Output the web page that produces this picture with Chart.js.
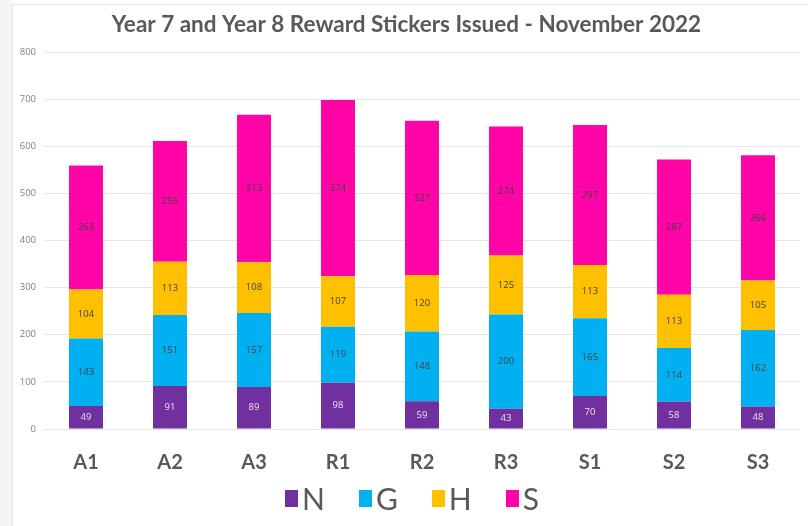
<!DOCTYPE html>
<html>
<head>
<meta charset="utf-8">
<script src="https://cdn.jsdelivr.net/npm/chart.js@4/dist/chart.umd.min.js"></script>
<style>
  html, body { margin:0; padding:0; background:#fff; }
  body { width:808px; height:526px; position:relative; overflow:hidden; }
  #strip { position:absolute; left:0; top:0; width:12px; height:526px; background:#f4f4f4; }
  #frame { position:absolute; left:12px; top:4px; width:796px; height:522px;
           border-left:1px solid #e4e4e4; border-top:1px solid #e4e4e4; }
  #wrap { position:absolute; left:0; top:0; width:795px; height:521px; }
  #legend { position:absolute; left:8px; top:480px; width:808px; display:flex;
            justify-content:center; align-items:center; font-family:Lato, sans-serif;
            font-size:30px; color:#595959; }
  .item { display:flex; align-items:center; margin:0 17px; }
  .box { width:13px; height:17px; margin-right:4px; }
</style>
</head>
<body>
<div id="strip"></div>
<div id="frame"><div id="wrap"><canvas id="chart"></canvas></div></div>
<div id="legend"></div>
<script>
const classes = ["A1","A2","A3","R1","R2","R3","S1","S2","S3"];
const seriesNames = ["N","G","H","S"];
const nValues = [49, 91, 89, 98, 59, 43, 70, 58, 48];
const gValues = [143, 151, 157, 119, 148, 200, 165, 114, 162];
const hValues = [104, 113, 108, 107, 120, 125, 113, 113, 105];
const sValues = [263, 256, 313, 374, 327, 274, 297, 287, 266];
const colours = ["#7030a0", "#00b0f0", "#ffc000", "#ff05a8"];
const labelColours = ["#e8e8e8", "#404040", "#404040", "#404040"];

const allValues = [nValues, gValues, hValues, sValues];

// write the numbers in the middle of each segment
const segmentLabels = {
  id: "segmentLabels",
  afterDatasetsDraw(chart) {
    const ctx = chart.ctx;
    ctx.save();
    ctx.font = "9.5px 'Open Sans', sans-serif";
    ctx.textAlign = "center";
    ctx.textBaseline = "middle";
    chart.data.datasets.forEach((ds, i) => {
      chart.getDatasetMeta(i).data.forEach((bar, j) => {
        ctx.fillStyle = labelColours[i];
        ctx.fillText(ds.data[j], bar.x, (bar.y + bar.base) / 2);
      });
    });
    ctx.restore();
  }
};

const chart = new Chart(document.getElementById("chart"), {
  type: "bar",
  data: {
    labels: classes,
    datasets: seriesNames.map((name, i) => ({
      label: name,
      data: allValues[i],
      backgroundColor: colours[i],
      borderWidth: 0,
      categoryPercentage: 1,
      barPercentage: 0.405
    }))
  },
  options: {
    responsive: true,
    maintainAspectRatio: false,
    animation: false,
    layout: { padding: { left: 0, right: 8, top: 0, bottom: 47 } },
    plugins: {
      legend: { display: false },
      tooltip: { enabled: false },
      title: {
        display: true,
        text: "Year 7 and Year 8 Reward Stickers Issued - November 2022",
        color: "#595959",
        font: { family: "Lato", size: 22.5, weight: "bold" },
        padding: { top: 6, bottom: 14 }
      }
    },
    scales: {
      x: {
        stacked: true,
        grid: { display: false },
        border: { display: false },
        ticks: {
          color: "#595959",
          font: { family: "Lato", size: 20, weight: "bold" },
          padding: 14
        },
        afterFit(scale) { scale.height = 50; }
      },
      y: {
        stacked: true,
        min: 0,
        max: 800,
        grid: { color: "#e6e6e6", drawTicks: false },
        border: { display: false },
        ticks: {
          stepSize: 100,
          color: "#808080",
          font: { family: "'Open Sans'", size: 9.5 },
          padding: 8
        },
        afterFit(scale) { scale.width = 31; }
      }
    }
  },
  plugins: [segmentLabels]
});

// legend under the chart, built from the datasets
const legend = document.getElementById("legend");
chart.data.datasets.forEach(ds => {
  const item = document.createElement("div");
  item.className = "item";
  const box = document.createElement("span");
  box.className = "box";
  box.style.background = ds.backgroundColor;
  const txt = document.createElement("span");
  txt.textContent = ds.label;
  item.appendChild(box);
  item.appendChild(txt);
  legend.appendChild(item);
});
</script>
</body>
</html>
